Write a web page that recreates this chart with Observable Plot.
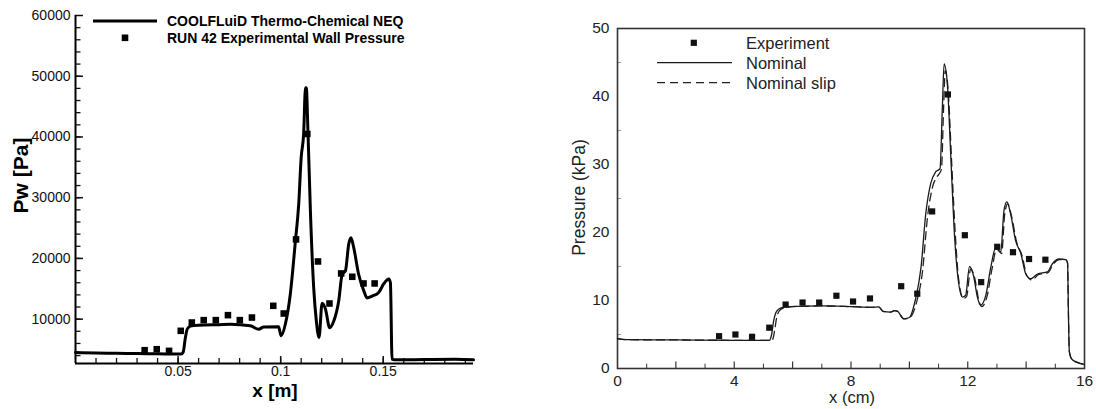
<!DOCTYPE html>
<html><head><meta charset="utf-8">
<script src="https://cdn.jsdelivr.net/npm/d3@7"></script>
<script src="https://cdn.jsdelivr.net/npm/@observablehq/plot@0.6"></script>
<style>
html,body{margin:0;padding:0;background:#fff;}
#root{position:relative;width:1096px;height:409px;overflow:hidden;font-family:"Liberation Sans",Arial,sans-serif;}
</style></head><body><div id="root"></div>
<script>
// ---------- LEFT PANEL DATA (x in m, pressure in Pa) ----------
const leftX = [0, 0.01, 0.02, 0.03, 0.04, 0.05, 0.0515, 0.0525, 0.0535, 0.0545, 0.056, 0.06, 0.07, 0.0755, 0.0852, 0.0893, 0.0917, 0.099, 0.1002, 0.1023, 0.1047, 0.1072, 0.1088, 0.11, 0.1112, 0.1121, 0.1125, 0.1133, 0.1145, 0.1161, 0.1174, 0.1187, 0.1202, 0.1218, 0.1239, 0.1259, 0.1283, 0.13, 0.1316, 0.1332, 0.1343, 0.1356, 0.138, 0.1405, 0.1421, 0.1446, 0.1478, 0.1502, 0.1527, 0.1535, 0.1543, 0.1568, 0.17, 0.185, 0.194];
const leftP = [4500, 4420, 4380, 4330, 4300, 4250, 4260, 4600, 6800, 8400, 8850, 9000, 9100, 9150, 8900, 8350, 8700, 8750, 7250, 9200, 14100, 22900, 28900, 36600, 40500, 48100, 48100, 41000, 27800, 15200, 9700, 7000, 12600, 11700, 8600, 9700, 13000, 17400, 18000, 22400, 23400, 21800, 17400, 14700, 13500, 13800, 14400, 15800, 16600, 16000, 3400, 3300, 3350, 3400, 3300];
const leftExpX = [0.0337, 0.0396, 0.0456, 0.0513, 0.0567, 0.0625, 0.0684, 0.0743, 0.0801, 0.086, 0.0964, 0.1015, 0.1075, 0.113, 0.1182, 0.1238, 0.1295, 0.1349, 0.1404, 0.1458];
const leftExpP = [4890, 5050, 4780, 8080, 9450, 9840, 9840, 10660, 9840, 10270, 12200, 10930, 23130, 40490, 19500, 12580, 17530, 16980, 15880, 15880];
const leftXTicks = [0.05, 0.1, 0.15];
const leftXTickLabels = ["0.05", "0.1", "0.15"];
const leftYTicks = [10000, 20000, 30000, 40000, 50000, 60000];
const leftLegend = ["COOLFLuiD Thermo-Chemical NEQ", "RUN 42 Experimental Wall Pressure"];
const leftXTitle = "x [m]";
const leftYTitle = "Pw [Pa]";

// ---------- RIGHT PANEL DATA (x in cm, pressure in kPa) ----------
const nomX = [0, 0.3, 2, 4, 5.2, 5.28, 5.35, 5.45, 5.6, 5.9, 7, 8, 8.7, 8.95, 9.1, 9.35, 9.5, 9.6, 9.8, 10.0, 10.2, 10.4, 10.56, 10.73, 10.9, 11.05, 11.13, 11.19, 11.3, 11.42, 11.53, 11.65, 11.82, 11.93, 12.06, 12.2, 12.33, 12.44, 12.62, 12.79, 12.96, 13.13, 13.24, 13.34, 13.47, 13.64, 13.82, 13.99, 14.16, 14.39, 14.73, 14.9, 15.13, 15.36, 15.42, 15.45, 15.48, 15.56, 15.75, 16];
const nomP = [4.4, 4.25, 4.2, 4.15, 4.15, 5.0, 7.0, 8.4, 8.9, 9.1, 9.2, 9.1, 9.0, 9.05, 8.4, 8.3, 8.5, 8.4, 7.3, 7.5, 10.0, 14.9, 22.7, 27.2, 28.9, 29.4, 38.4, 44.8, 41.9, 31.1, 20.8, 13.9, 10.5, 10.8, 15.0, 13.6, 10.5, 9.3, 10.8, 14.9, 17.8, 17.1, 23.2, 24.5, 22.7, 18.8, 16.9, 13.9, 13.2, 13.9, 14.2, 15.4, 16.1, 16.0, 15.5, 8, 2.5, 1.4, 0.9, 0.6];
const slipX = [0, 0.3, 2, 4, 5.3, 5.38, 5.45, 5.55, 5.7, 6.0, 7, 8, 8.7, 8.95, 9.1, 9.35, 9.5, 9.6, 9.82, 10.02, 10.25, 10.45, 10.62, 10.8, 10.95, 11.1, 11.17, 11.23, 11.33, 11.45, 11.57, 11.68, 11.85, 11.96, 12.1, 12.24, 12.37, 12.48, 12.66, 12.83, 12.99, 13.16, 13.27, 13.37, 13.5, 13.68, 13.86, 14.03, 14.2, 14.42, 14.75, 14.92, 15.14, 15.36, 15.42, 15.45, 15.48, 15.56, 15.75, 16];
const slipP = [4.4, 4.25, 4.2, 4.15, 4.15, 5.5, 7.4, 8.5, 8.9, 9.1, 9.2, 9.1, 9.0, 9.05, 8.4, 8.3, 8.5, 8.4, 7.3, 7.5, 9.8, 14.3, 22.2, 26.8, 28.2, 29.3, 38.0, 43.8, 40.8, 30.2, 20.0, 13.4, 10.3, 10.6, 14.6, 13.3, 10.2, 9.1, 10.6, 14.6, 17.6, 16.9, 22.8, 24.2, 22.4, 18.5, 16.6, 13.6, 13.0, 13.8, 14.1, 15.3, 16.0, 16.0, 15.5, 8, 2.5, 1.4, 0.9, 0.6];
const rightExpX = [3.48, 4.04, 4.61, 5.2, 5.76, 6.34, 6.91, 7.5, 8.07, 8.65, 9.72, 10.27, 10.78, 11.32, 11.9, 12.46, 13.01, 13.55, 14.1, 14.66];
const rightExpP = [4.75, 5.0, 4.66, 6.0, 9.4, 9.7, 9.7, 10.7, 9.85, 10.3, 12.1, 11.0, 23.1, 40.3, 19.6, 12.7, 17.9, 17.1, 16.1, 16.0];
const rightXTicks = [0, 4, 8, 12, 16];
const rightYTicks = [0, 10, 20, 30, 40, 50];
const rightLegend = ["Experiment", "Nominal", "Nominal slip"];
const rightXTitle = "x (cm)";
const rightYTitle = "Pressure (kPa)";

const zip = (xs, ys) => xs.map((x, i) => ({x, y: ys[i]}));
const FONT = '"Liberation Sans", Arial, Helvetica, sans-serif';
const root = document.getElementById("root");
function place(el, left, top) {
  el.style.position = "absolute";
  el.style.left = left + "px";
  el.style.top = top + "px";
  root.appendChild(el);
}

// ---------- LEFT PLOT ----------
const leftXMinor = d3.range(1, 20).map(i => i / 100);
const leftYMinor = d3.range(4000, 60000, 2000);
const left = Plot.plot({
  width: 480, height: 409,
  marginLeft: 75, marginRight: 7, marginTop: 15, marginBottom: 46,
  x: {domain: [0, 0.194]},
  y: {domain: [2700, 60000]},
  style: {fontFamily: FONT, fontSize: "14px", color: "#111", background: "transparent", overflow: "visible"},
  marks: [
    Plot.axisX(leftXMinor, {tickSize: -5, tickFormat: () => "", strokeWidth: 1.3, label: null}),
    Plot.axisX(leftXTicks, {tickSize: -7, tickFormat: () => "", strokeWidth: 1.5, label: null}),
    Plot.axisX(leftXTicks, {tickSize: 0, tickPadding: 3, tickFormat: (d, i) => leftXTickLabels[i], label: null}),
    Plot.axisY(leftYMinor, {tickSize: -5.5, tickFormat: () => "", strokeWidth: 1.3, label: null}),
    Plot.axisY(leftYTicks, {tickSize: -8, tickFormat: () => "", strokeWidth: 1.5, label: null}),
    Plot.axisY(leftYTicks, {tickSize: 0, tickPadding: 5, tickFormat: d => String(d), label: null}),
    Plot.ruleX([0], {stroke: "#000", strokeWidth: 2}),
    Plot.ruleY([2700], {stroke: "#000", strokeWidth: 2}),
    Plot.line(zip(leftX, leftP), {x: "x", y: "y", stroke: "#000", strokeWidth: 3, curve: "monotone-x"}),
    Plot.dot(zip(leftExpX, leftExpP), {x: "x", y: "y", symbol: "square", r: 3.7, fill: "#000", stroke: "none"})
  ]
});
place(left, 0, 0);

// ---------- RIGHT PLOT ----------
const rightXMinor = d3.range(1, 16, 2);
const rightXMid = d3.range(2, 16, 2);
const rightYMinor = [5, 15, 25, 35, 45];
const right = Plot.plot({
  width: 556, height: 409,
  marginLeft: 77, marginRight: 12, marginTop: 28, marginBottom: 41,
  x: {domain: [0, 16]},
  y: {domain: [0, 50]},
  style: {fontFamily: FONT, fontSize: "15.5px", color: "#222", background: "transparent", overflow: "visible"},
  marks: [
    Plot.axisX(rightXMinor, {tickSize: -4.3, tickFormat: () => "", stroke: "#333", strokeWidth: 1, label: null}),
    Plot.axisX(rightXMid, {tickSize: -6.5, tickFormat: () => "", stroke: "#333", strokeWidth: 1.2, label: null}),
    Plot.axisX(rightXTicks, {tickSize: 0, tickPadding: 6, tickFormat: d => String(d), label: null}),
    Plot.axisY(rightYMinor, {tickSize: -4, tickFormat: () => "", stroke: "#999", strokeWidth: 1, label: null}),
    Plot.axisY(rightYTicks, {tickSize: 0, tickPadding: 8, tickFormat: d => String(d), label: null}),
    Plot.frame({stroke: "#333", strokeWidth: 1.6}),
    Plot.line(zip(slipX, slipP), {x: "x", y: "y", stroke: "#222", strokeWidth: 1.3, strokeDasharray: "8,5", curve: "monotone-x"}),
    Plot.line(zip(nomX, nomP), {x: "x", y: "y", stroke: "#1a1a1a", strokeWidth: 1.3, curve: "monotone-x"}),
    Plot.dot(zip(rightExpX, rightExpP), {x: "x", y: "y", symbol: "square", r: 3.5, fill: "#111", stroke: "none"})
  ]
});
place(right, 540, 0);

// ---------- TITLES AND LEGENDS (overlay) ----------
const ov = d3.select(root).append("svg")
  .attr("width", 1096).attr("height", 409)
  .style("position", "absolute").style("left", "0px").style("top", "0px")
  .style("pointer-events", "none")
  .style("font-family", FONT);

// left titles
ov.append("text").attr("x", 275).attr("y", 396.5).attr("text-anchor", "middle")
  .attr("font-weight", "bold").attr("font-size", 19).attr("fill", "#000").text(leftXTitle);
ov.append("text").attr("transform", "translate(28,175.5) rotate(-90)").attr("text-anchor", "middle")
  .attr("font-weight", "bold").attr("font-size", 21).attr("fill", "#000").text(leftYTitle);

// left legend
ov.append("line").attr("x1", 93).attr("x2", 157).attr("y1", 21).attr("y2", 21)
  .attr("stroke", "#000").attr("stroke-width", 3);
ov.append("rect").attr("x", 121.7).attr("y", 34.5).attr("width", 6.6).attr("height", 6.6).attr("fill", "#000");
ov.append("text").attr("x", 167).attr("y", 26).attr("font-weight", "bold").attr("font-size", 14).attr("fill", "#000").text(leftLegend[0]);
ov.append("text").attr("x", 167).attr("y", 42.5).attr("font-weight", "bold").attr("font-size", 14).attr("fill", "#000").text(leftLegend[1]);

// right titles
ov.append("text").attr("x", 852).attr("y", 403).attr("text-anchor", "middle")
  .attr("font-size", 16.5).attr("fill", "#222").text(rightXTitle);
ov.append("text").attr("transform", "translate(585,197.5) rotate(-90)").attr("text-anchor", "middle")
  .attr("font-size", 17.5).attr("fill", "#222").text(rightYTitle);

// right legend
ov.append("rect").attr("x", 690.7).attr("y", 39.7).attr("width", 6.2).attr("height", 6.2).attr("fill", "#111");
ov.append("line").attr("x1", 657).attr("x2", 732).attr("y1", 62.7).attr("y2", 62.7)
  .attr("stroke", "#1a1a1a").attr("stroke-width", 1.3);
ov.append("line").attr("x1", 657).attr("x2", 732).attr("y1", 82.7).attr("y2", 82.7)
  .attr("stroke", "#222").attr("stroke-width", 1.3).attr("stroke-dasharray", "8,5");
[48.5, 68.5, 88.5].forEach((y, i) => {
  ov.append("text").attr("x", 746).attr("y", y).attr("font-size", 16.5).attr("fill", "#222").text(rightLegend[i]);
});
</script>
</body></html>
